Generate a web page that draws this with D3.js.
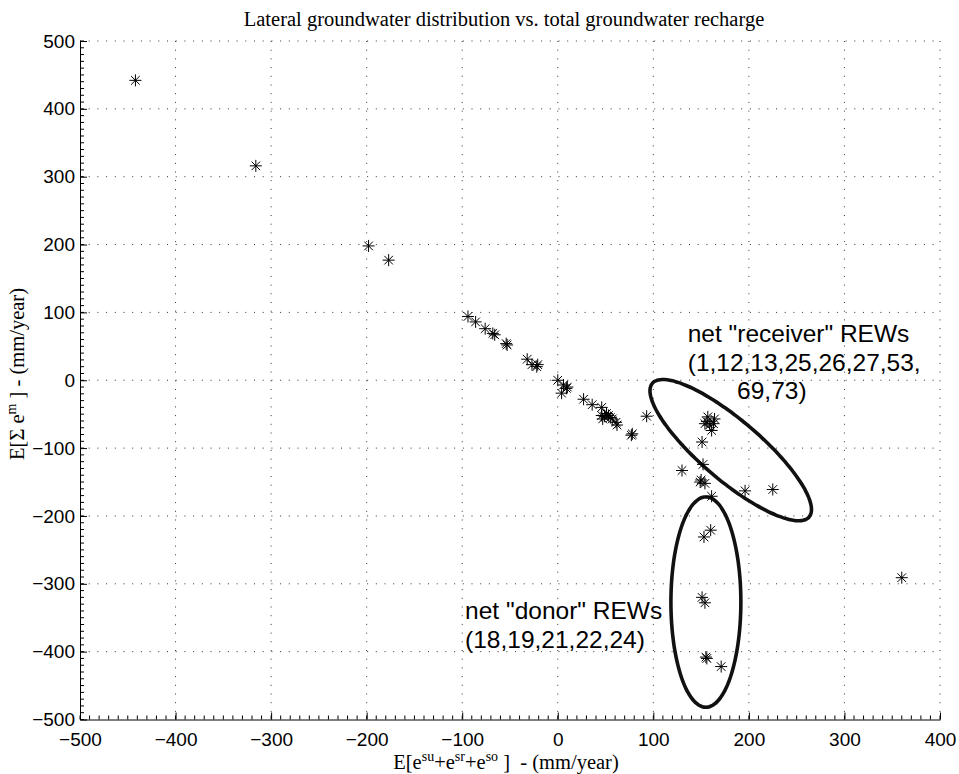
<!DOCTYPE html>
<html>
<head>
<meta charset="utf-8">
<script src="https://cdn.jsdelivr.net/npm/d3@7"></script>
<style>
body { margin: 0; background: #fff; }
</style>
</head>
<body>
<div id="chart"></div>
<script>
// ticks
const xTicks = [-500, -400, -300, -200, -100, 0, 100, 200, 300, 400]
const yTicks = [-500, -400, -300, -200, -100, 0, 100, 200, 300, 400, 500]

// E[esu+esr+eso] per REW (mm/year)
const rechargeX = [
    -442, -316, -198, -177,
    -94, -86, -76, -68, -66, -54, -53,
    -32, -27, -21, -22,
    0, 6, 10, 4, 9,
    27, 36, 46,
    46, 49, 53, 55, 47, 51, 57,
    62, 61, 78, 77, 93,
    157, 164, 154, 159, 161, 156, 163,
    151, 152, 130, 150, 154, 149,
    161, 196, 225,
    160, 153, 151, 154, 156, 155, 171,
    360
]
// E[sum em] per REW (mm/year)
const lateralY = [
    442, 316, 198, 177,
    94, 86, 76, 69, 67, 54, 52,
    31, 23, 23, 20,
    0, -7, -10, -19, -12,
    -28, -36, -40,
    -52, -53, -52, -55, -57, -49, -57,
    -66, -62, -79, -81, -53,
    -54, -57, -64, -66, -74, -61, -64,
    -91, -124, -133, -147, -152, -150,
    -171, -163, -161,
    -221, -231, -320, -328, -410, -408, -422,
    -291
]

// ellipses in data units: centre + two conjugate semi-axes
const receiverEllipse = { cx: 181, cy: -103, ux: 82, uy: -98.5, vx: -20.4, vy: -33.6 }
const donorEllipse = { cx: 155, cy: -327, ux: 36.6, uy: 0, vx: 0, vy: 155 }

// annotation lines (anchor in data units)
const labelLines = [
    { text: 'net "receiver" REWs', x: 136, y: 56, anchor: 'start' },
    { text: '(1,12,13,25,26,27,53,', x: 136, y: 13, anchor: 'start' },
    { text: '69,73)', x: 224, y: -28, anchor: 'middle' },
    { text: 'net "donor" REWs', x: -97, y: -352, anchor: 'start' },
    { text: '(18,19,21,22,24)', x: -97, y: -395, anchor: 'start' }
]

const W = 959, H = 774
const margin = { top: 41, right: 19, bottom: 54.5, left: 80 }
const width = W - margin.left - margin.right
const height = H - margin.top - margin.bottom

const svg = d3.select('#chart')
    .append('svg')
        .attr('width', W)
        .attr('height', H)

const g = svg.append('g')
    .attr('transform', 'translate(' + margin.left + ',' + margin.top + ')')

const x = d3.scaleLinear().domain([-500, 400]).range([0, width])
const y = d3.scaleLinear().domain([-500, 500]).range([height, 0])

// dotted grid
g.append('g')
    .selectAll('line')
    .data(xTicks.slice(1))
    .enter()
    .append('line')
        .attr('x1', d => x(d)).attr('x2', d => x(d))
        .attr('y1', 0).attr('y2', height)
        .attr('stroke', '#333')
        .attr('stroke-dasharray', '1,7.7')
g.append('g')
    .selectAll('line')
    .data(yTicks.slice(1))
    .enter()
    .append('line')
        .attr('y1', d => y(d)).attr('y2', d => y(d))
        .attr('x1', 0).attr('x2', width)
        .attr('stroke', '#333')
        .attr('stroke-dasharray', '1,7.7')

// minor ticks
const xMinor = d3.range(-500, 401, 10)
const yMinor = d3.range(-500, 501, 10)
g.append('g')
    .selectAll('line')
    .data(xMinor)
    .enter()
    .append('line')
        .attr('x1', d => x(d)).attr('x2', d => x(d))
        .attr('y1', height).attr('y2', height - 4)
        .attr('stroke', '#000')
g.append('g')
    .selectAll('line')
    .data(yMinor)
    .enter()
    .append('line')
        .attr('y1', d => y(d)).attr('y2', d => y(d))
        .attr('x1', 0).attr('x2', 4)
        .attr('stroke', '#000')

const sans = '"Liberation Sans", Arial, Helvetica, sans-serif'

const xAxis = g.append('g')
    .attr('transform', 'translate(0,' + height + ')')
    .call(d3.axisBottom(x).tickValues(xTicks).tickSize(-7).tickPadding(13).tickSizeOuter(0))
const yAxis = g.append('g')
    .call(d3.axisLeft(y).tickValues(yTicks).tickSize(-7).tickPadding(5).tickSizeOuter(0))

;[xAxis, yAxis].forEach(a => {
    a.select('.domain').attr('stroke', '#000')
    a.selectAll('.tick line').attr('stroke', '#000')
    a.selectAll('.tick text')
        .attr('fill', '#000')
        .style('font-family', sans)
        .style('font-size', '19px')
})

// ellipses
function ellipsePath(e) {
    const pts = d3.range(0, 360, 3).map(a => {
        const t = a * Math.PI / 180
        return [x(e.cx + e.ux * Math.cos(t) + e.vx * Math.sin(t)),
                y(e.cy + e.uy * Math.cos(t) + e.vy * Math.sin(t))]
    })
    return d3.line().curve(d3.curveCardinalClosed)(pts)
}
g.selectAll('path.ell')
    .data([receiverEllipse, donorEllipse])
    .enter()
    .append('path')
        .attr('class', 'ell')
        .attr('d', ellipsePath)
        .attr('fill', 'none')
        .attr('stroke', '#111')
        .attr('stroke-width', 3.6)

// asterisk markers
const star = 'M-6,0H6M0,-6V6M-4.3,-4.3L4.3,4.3M-4.3,4.3L4.3,-4.3'
g.append('g')
    .selectAll('path')
    .data(rechargeX.map((v, i) => [v, lateralY[i]]))
    .enter()
    .append('path')
        .attr('d', star)
        .attr('transform', d => 'translate(' + x(d[0]) + ',' + y(d[1]) + ')')
        .attr('stroke', '#000')
        .attr('stroke-width', 1)
        .attr('fill', 'none')

// annotations
g.append('g')
    .selectAll('text')
    .data(labelLines)
    .enter()
    .append('text')
        .attr('x', d => x(d.x))
        .attr('y', d => y(d.y))
        .attr('text-anchor', d => d.anchor)
        .style('font-family', sans)
        .style('font-size', '24.5px')
        .text(d => d.text)

// title and axis labels
const serif = '"Liberation Serif", "Times New Roman", Times, serif'
svg.append('text')
    .attr('x', margin.left + width / 2 - 6)
    .attr('y', 26)
    .attr('text-anchor', 'middle')
    .style('font-family', serif)
    .style('font-size', '20.5px')
    .text('Lateral groundwater distribution vs. total groundwater recharge')

const xl = svg.append('text')
    .attr('x', 506)
    .attr('y', 769)
    .attr('text-anchor', 'middle')
    .style('font-family', serif)
    .style('font-size', '20.5px')
xl.append('tspan').text('E[e')
xl.append('tspan').attr('dy', -8).style('font-size', '14px').text('su')
xl.append('tspan').attr('dy', 8).text('+e')
xl.append('tspan').attr('dy', -8).style('font-size', '14px').text('sr')
xl.append('tspan').attr('dy', 8).text('+e')
xl.append('tspan').attr('dy', -8).style('font-size', '14px').text('so')
xl.append('tspan').attr('dy', 8).text('\u00a0]\u00a0 - (mm/year)')

const yl = svg.append('text')
    .attr('transform', 'translate(24,374) rotate(-90)')
    .attr('text-anchor', 'middle')
    .style('font-family', serif)
    .style('font-size', '20.5px')
yl.append('tspan').text('E[\u03a3 e')
yl.append('tspan').attr('dy', -8).style('font-size', '14px').text('m')
yl.append('tspan').attr('dy', 8).text('\u00a0] - (mm/year)')
</script>
</body>
</html>
